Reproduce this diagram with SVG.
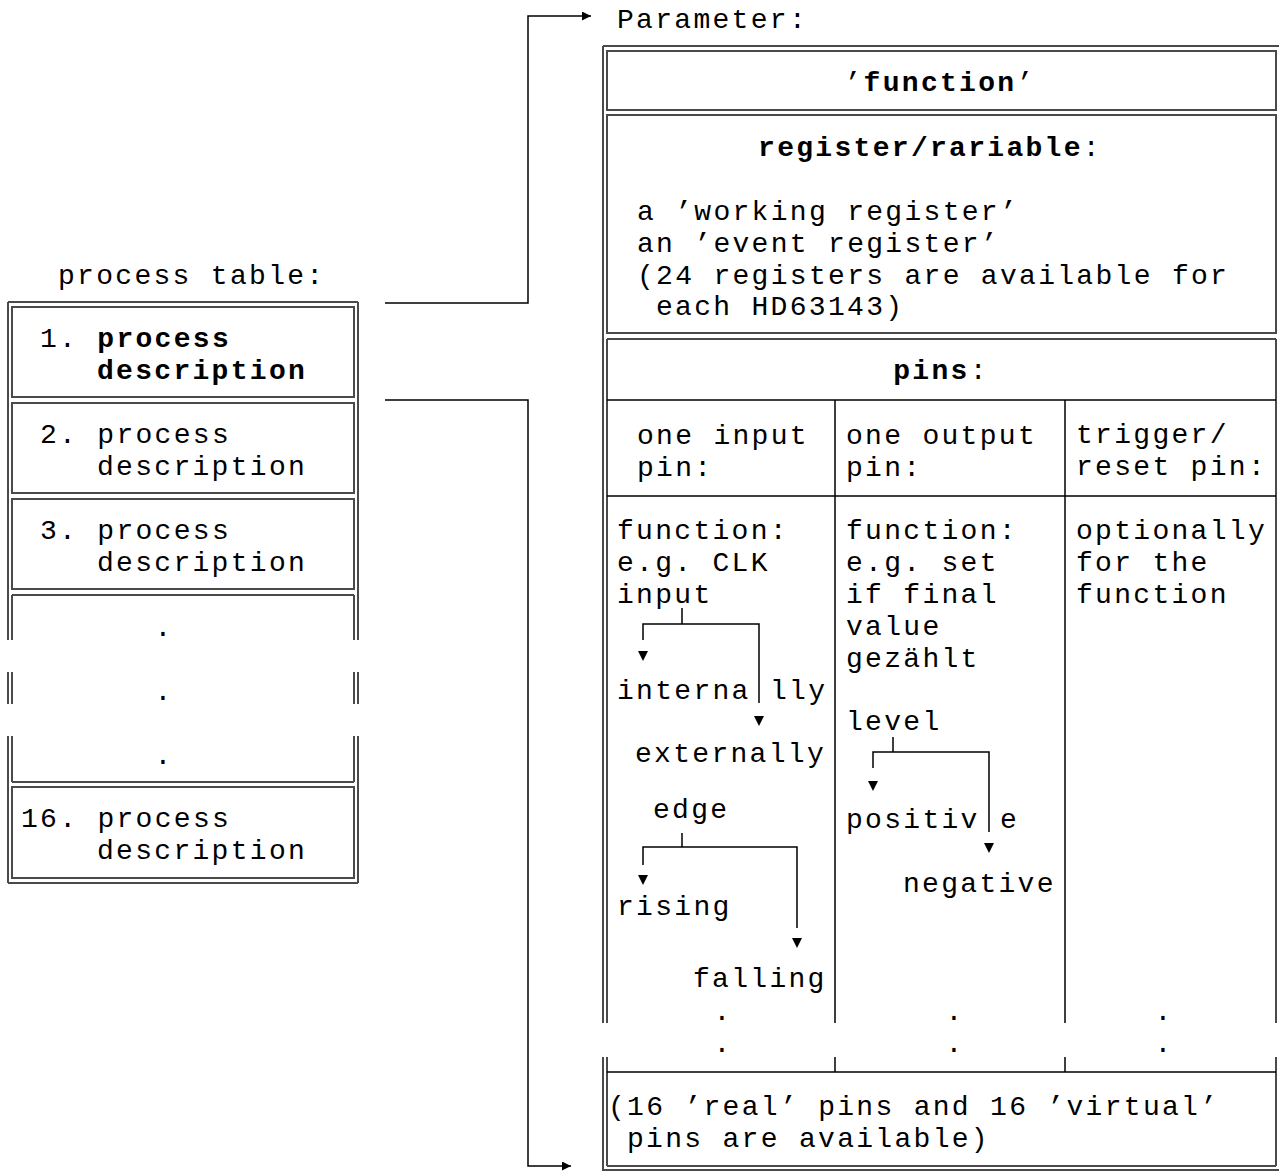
<svg xmlns="http://www.w3.org/2000/svg" xmlns:xlink="http://www.w3.org/1999/xlink" width="1279" height="1171" viewBox="0 0 1279 1171">
<style>
.t{font-family:"Liberation Mono","Courier New",monospace;font-size:28px;letter-spacing:2.3px;fill:#000}
.b{font-weight:bold}
.frame{fill:none;stroke:#4a4a4a;stroke-width:2}
.ln{fill:none;stroke:#000;stroke-width:1.5}
.conn{fill:none;stroke:#000;stroke-width:1.5}
</style>
<defs>
<marker id="arr" markerUnits="userSpaceOnUse" markerWidth="10" markerHeight="10" refX="9" refY="4.5" orient="auto">
<path d="M0,0 L9,4.5 L0,9 Z" fill="#000"/>
</marker>
<path id="tri" d="M-5,0 H5 L0,10 Z" fill="#000"/>
</defs>
<rect width="1279" height="1171" fill="#fff"/>

<g id="process-table">
<text class="t" x="58" y="284">process table:</text>
<path class="frame" d="M8,302 H358 M8,883 H358 M8,302 V640 M8,672 V704 M8,736 V883 M358,302 V640 M358,672 V704 M358,736 V883"/>
<g id="cell-1">
<rect class="frame" x="12" y="307" width="342" height="90"/>
<text class="t" x="40" y="347">1. <tspan class="b">process</tspan></text>
<text class="t b" x="97" y="379">description</text>
</g>
<g id="cell-2">
<rect class="frame" x="12" y="403" width="342" height="90"/>
<text class="t" x="40" y="443">2. process</text>
<text class="t" x="97" y="475">description</text>
</g>
<g id="cell-3">
<rect class="frame" x="12" y="499" width="342" height="90"/>
<text class="t" x="40" y="539">3. process</text>
<text class="t" x="97" y="571">description</text>
</g>
<g id="cell-dots">
<path class="frame" d="M12,595 H354 M12,782 H354 M12,595 V640 M12,672 V704 M12,736 V782 M354,595 V640 M354,672 V704 M354,736 V782"/>
<text class="t" x="164" y="636" text-anchor="middle">.</text>
<text class="t" x="164" y="700" text-anchor="middle">.</text>
<text class="t" x="164" y="764" text-anchor="middle">.</text>
</g>
<g id="cell-16">
<rect class="frame" x="12" y="787" width="342" height="91"/>
<text class="t" x="21" y="827">16. process</text>
<text class="t" x="97" y="859">description</text>
</g>
</g>

<g id="connectors">
<path class="conn" d="M385,303 H528 V16 H591" marker-end="url(#arr)"/>
<path class="conn" d="M385,400 H528 V1166 H571" marker-end="url(#arr)"/>
</g>

<g id="parameter-table">
<text class="t" x="617" y="28">Parameter:</text>
<path class="frame" d="M603,46 H1281 M603,46 V1023 M603,1057 V1170 H1281"/>
<g id="function-cell">
<rect class="frame" x="607" y="51" width="669" height="59"/>
<text class="t" x="940" y="91" text-anchor="middle">’<tspan class="b">function</tspan>’</text>
</g>
<g id="register-cell">
<rect class="frame" x="607" y="115" width="669" height="218"/>
<text class="t" x="930" y="156" text-anchor="middle"><tspan class="b">register/rariable</tspan>:</text>
<text class="t" x="637" y="220">a ’working register’</text>
<text class="t" x="637" y="252">an ’event register’</text>
<text class="t" x="637" y="284">(24 registers are available for</text>
<text class="t" x="656" y="315">each HD63143)</text>
</g>
<g id="pins-cell">
<path class="frame" d="M607,339 H1276 M607,1166 H1276 M607,339 V1023 M607,1057 V1166 M1276,339 V1023 M1276,1057 V1166"/>
<path class="ln" d="M607,400 H1276 M607,496 H1276 M607,1072 H1276 M835,400 V1023 M835,1057 V1072 M1065,400 V1023 M1065,1057 V1072"/>
<text class="t" x="941" y="379" text-anchor="middle"><tspan class="b">pins</tspan>:</text>
<text class="t" x="637" y="444">one input</text>
<text class="t" x="637" y="476">pin:</text>
<text class="t" x="846" y="444">one output</text>
<text class="t" x="846" y="476">pin:</text>
<text class="t" x="1076" y="443">trigger/</text>
<text class="t" x="1076" y="475">reset pin:</text>
</g>
<g id="input-pin">
<text class="t" x="617" y="539">function:</text>
<text class="t" x="617" y="571">e.g. CLK</text>
<text class="t" x="617" y="603">input</text>
<path class="ln" d="M682,608 V624 M643,640 V624 H759 V703"/>
<use xlink:href="#tri" x="643" y="651"/>
<use xlink:href="#tri" x="759" y="716"/>
<text class="t" x="617" y="699">interna</text>
<text class="t" x="770" y="699">lly</text>
<text class="t" x="635" y="762">externally</text>
<text class="t" x="653" y="818">edge</text>
<path class="ln" d="M682,833 V847 M643,865 V847 H797 V928"/>
<use xlink:href="#tri" x="643" y="875"/>
<use xlink:href="#tri" x="797" y="938"/>
<text class="t" x="617" y="915">rising</text>
<text class="t" x="693" y="987">falling</text>
<text class="t" x="723" y="1020" text-anchor="middle">.</text>
<text class="t" x="723" y="1052" text-anchor="middle">.</text>
</g>
<g id="output-pin">
<text class="t" x="846" y="539">function:</text>
<text class="t" x="846" y="571">e.g. set</text>
<text class="t" x="846" y="603">if final</text>
<text class="t" x="846" y="635">value</text>
<text class="t" x="846" y="667">gezählt</text>
<text class="t" x="846" y="730">level</text>
<path class="ln" d="M893,737 V752 M873,768 V752 H989 V832"/>
<use xlink:href="#tri" x="873" y="781"/>
<use xlink:href="#tri" x="989" y="843"/>
<text class="t" x="846" y="828">positiv</text>
<text class="t" x="1000" y="828">e</text>
<text class="t" x="903" y="892">negative</text>
<text class="t" x="955" y="1020" text-anchor="middle">.</text>
<text class="t" x="955" y="1052" text-anchor="middle">.</text>
</g>
<g id="trigger-pin">
<text class="t" x="1076" y="539">optionally</text>
<text class="t" x="1076" y="571">for the</text>
<text class="t" x="1076" y="603">function</text>
<text class="t" x="1164" y="1020" text-anchor="middle">.</text>
<text class="t" x="1164" y="1052" text-anchor="middle">.</text>
</g>
<g id="pins-note">
<text class="t" x="608" y="1115">(16 ’real’ pins and 16 ’virtual’</text>
<text class="t" x="627" y="1147">pins are available)</text>
</g>
</g>
</svg>
